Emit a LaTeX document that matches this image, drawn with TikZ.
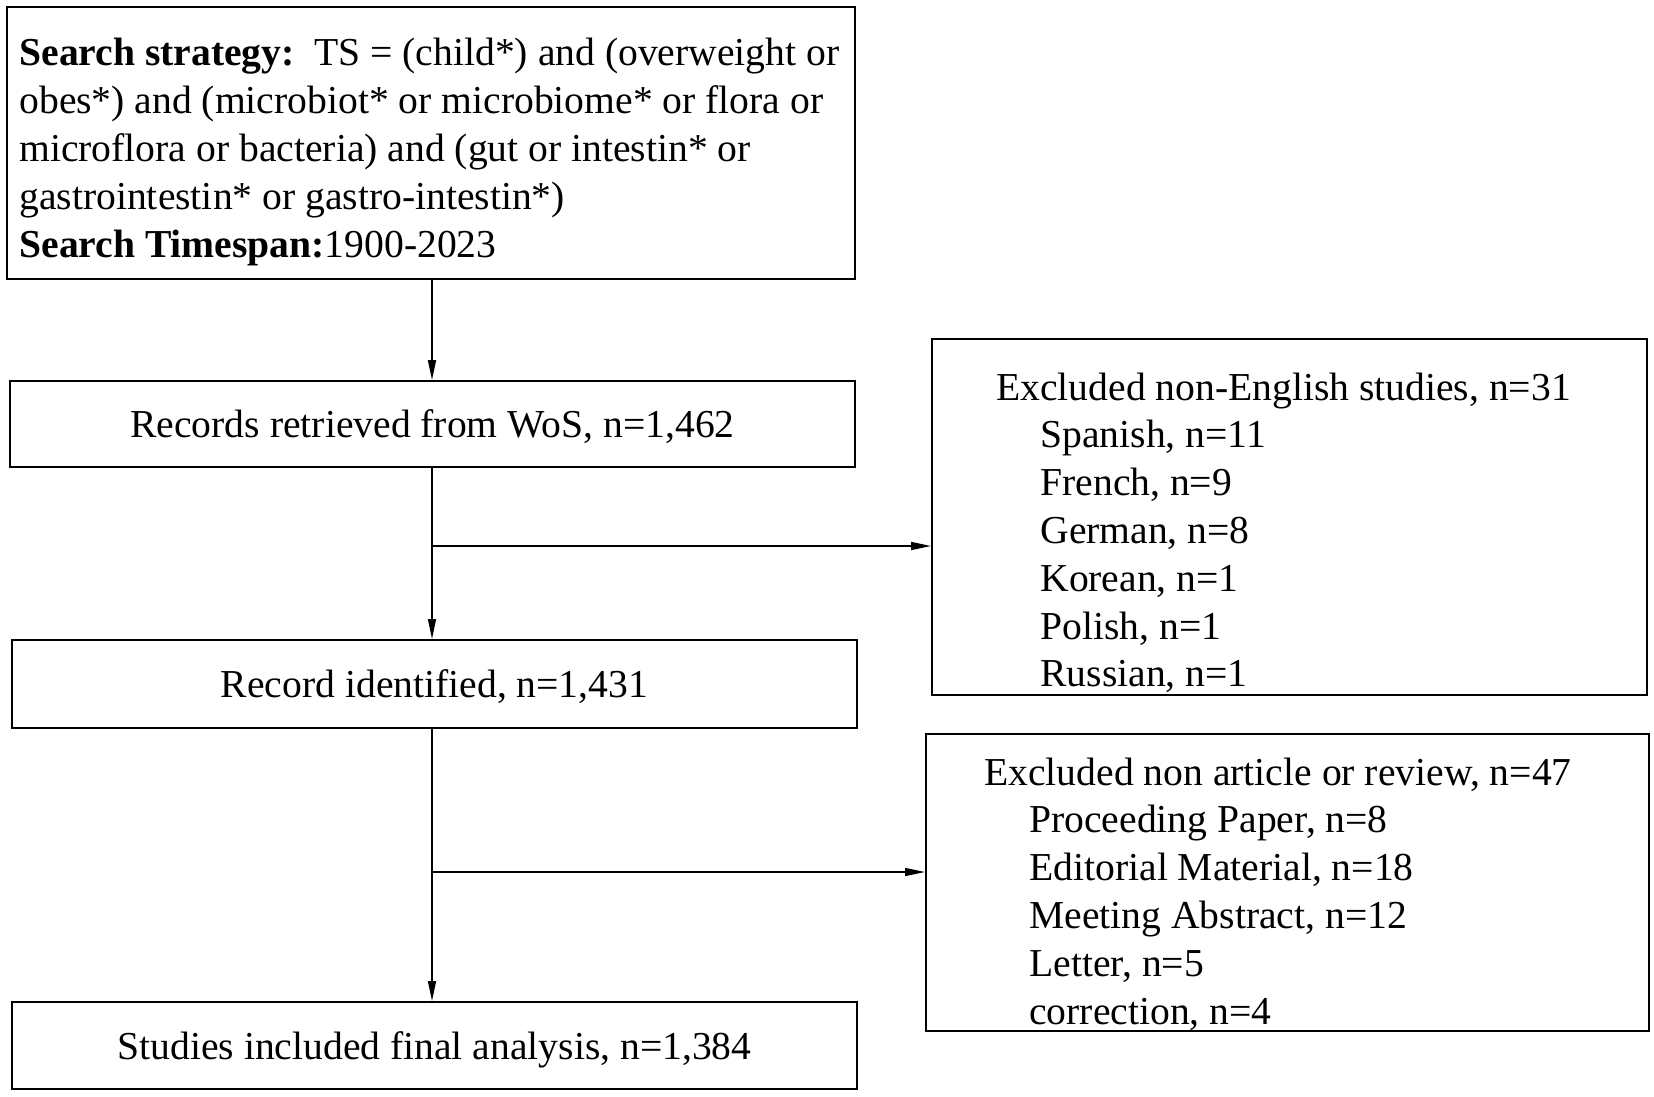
\documentclass[tikz,border=0pt]{standalone}
\usepackage{fontspec}
\setmainfont{Liberation Serif}
\usetikzlibrary{arrows.meta}
\newcommand{\fsz}{\fontsize{19.8pt}{23.9pt}\selectfont}
\begin{document}
\begin{tikzpicture}[x=0.5pt,y=-0.5pt,
  box/.style={draw=black,line width=1pt,rectangle,inner sep=0pt,font=\fsz,align=center,text depth=0pt},
  txt/.style={inner sep=0pt,font=\fsz,anchor=base west},
  arr/.style={line width=0.75pt,-{Triangle[length=10pt,width=4pt]}}]
\useasboundingbox (0,0) rectangle (1654,1097);
% boxes
\node[box,minimum width=424pt,minimum height=136pt] (top) at (431,143) {};
\node[box,minimum width=422.5pt,minimum height=43pt] (rec) at (432.5,424) {Records retrieved from WoS, n=1,462};
\node[box,minimum width=422.5pt,minimum height=44pt] (idn) at (434.5,684) {Record identified, n=1,431};
\node[box,minimum width=422.5pt,minimum height=43.5pt] (stu) at (434.5,1045.5) {Studies included final analysis, n=1,384};
\node[box,minimum width=357.5pt,minimum height=178pt] (ex1) at (1289.5,517) {};
\node[box,minimum width=361.5pt,minimum height=148.5pt] (ex2) at (1287.5,882.5) {};
% texts
\node[txt] (toptxt) at (19,66) {\fsz\begin{tabular}[t]{@{}l@{}}
\textbf{Search strategy:}\ \ TS = (child*) and (overweight or\\
obes*) and (microbiot* or microbiome* or flora or\\
microflora or bacteria) and (gut or intestin* or\\
gastrointestin* or gastro-intestin*)\\
\textbf{Search Timespan:}1900-2023
\end{tabular}};
\node[txt] (ex1txt) at (996,400) {\fsz\begin{tabular}[t]{@{}l@{}}
Excluded non-English studies, n=31\\
\hspace*{22pt}Spanish, n=11\\
\hspace*{22pt}French, n=9\\
\hspace*{22pt}German, n=8\\
\hspace*{22pt}Korean, n=1\\
\hspace*{22pt}Polish, n=1\\
\hspace*{22pt}Russian, n=1
\end{tabular}};
\node[txt] (ex2txt) at (984,785) {\fsz\begin{tabular}[t]{@{}l@{}}
Excluded non article or review, n=47\\
\hspace*{22.5pt}Proceeding Paper, n=8\\
\hspace*{22.5pt}Editorial Material, n=18\\
\hspace*{22.5pt}Meeting Abstract, n=12\\
\hspace*{22.5pt}Letter, n=5\\
\hspace*{22.5pt}correction, n=4
\end{tabular}};
% connectors
\coordinate (ax) at (432,0);
\coordinate (b1) at (432,546);
\coordinate (b2) at (433,872);
\draw[arr] (top.south -| ax) -- (rec.north -| ax);
\draw[arr] (rec.south -| ax) -- (idn.north -| ax);
\draw[arr] (idn.south -| ax) -- (stu.north -| ax);
\draw[arr] (b1) -- (ex1.west |- b1);
\draw[arr] (b2) -- (ex2.west |- b2);
\end{tikzpicture}
\end{document}
